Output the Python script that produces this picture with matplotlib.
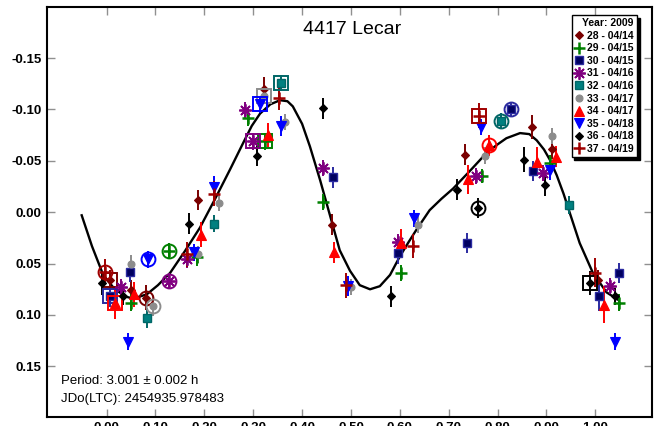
import matplotlib.pyplot as plt

plt.rcParams['font.family'] = ['Liberation Sans', 'DejaVu Sans']

# --- session data: phase, reduced magnitude, error; ring / box = index of highlighted point
phase_28 = [0.007, 0.049, 0.081, 0.186, 0.322, 0.461, 0.733, 0.870, 0.912, 1.006]
mag_28 = [0.066, 0.076, 0.083, -0.012, -0.120, 0.012, -0.056, -0.083, -0.062, 0.066]
err_28 = [0.010, 0.010, 0.012, 0.010, 0.012, 0.010, 0.010, 0.012, 0.010, 0.010]
ring_28, box_28 = 2, 0

phase_29 = [0.049, 0.128, 0.184, 0.289, 0.324, 0.443, 0.602, 0.769, 0.907, 1.048]
mag_29 = [0.088, 0.038, 0.044, -0.092, -0.069, -0.010, 0.059, -0.035, -0.048, 0.088]
err_29 = [0.008, 0.008, 0.008, 0.008, 0.008, 0.008, 0.008, 0.007, 0.008, 0.008]
ring_29, box_29 = 1, 4

phase_30 = [0.007, 0.048, 0.463, 0.597, 0.737, 0.827, 0.873, 1.008, 1.048]
mag_30 = [0.082, 0.058, -0.034, 0.040, 0.030, -0.100, -0.040, 0.082, 0.059]
err_30 = [0.010, 0.010, 0.010, 0.010, 0.010, 0.006, 0.010, 0.014, 0.010]
ring_30, box_30 = 5, 0

phase_31 = [0.029, 0.128, 0.164, 0.283, 0.300, 0.442, 0.597, 0.756, 0.893, 1.030]
mag_31 = [0.073, 0.067, 0.046, -0.099, -0.069, -0.043, 0.029, -0.035, -0.038, 0.072]
err_31 = [0.008, 0.008, 0.008, 0.008, 0.008, 0.008, 0.008, 0.008, 0.008, 0.008]
ring_31, box_31 = 1, 4

phase_32 = [0.083, 0.220, 0.356, 0.808, 0.946]
mag_32 = [0.103, 0.011, -0.126, -0.089, -0.007]
err_32 = [0.010, 0.008, 0.008, 0.008, 0.009]
ring_32, box_32 = 3, 2

phase_33 = [0.050, 0.094, 0.188, 0.229, 0.322, 0.365, 0.501, 0.638, 0.774, 0.912]
mag_33 = [0.050, 0.091, 0.041, -0.009, -0.113, -0.088, 0.073, 0.012, -0.055, -0.074]
err_33 = [0.008, 0.010, 0.008, 0.008, 0.008, 0.008, 0.008, 0.008, 0.008, 0.008]
ring_33, box_33 = 1, 4

phase_34 = [0.017, 0.056, 0.193, 0.330, 0.466, 0.602, 0.740, 0.782, 0.881, 0.919, 1.017]
mag_34 = [0.088, 0.080, 0.022, -0.075, 0.039, 0.030, -0.032, -0.065, -0.049, -0.054, 0.090]
err_34 = [0.016, 0.012, 0.012, 0.012, 0.010, 0.014, 0.014, 0.010, 0.014, 0.010, 0.018]
ring_34, box_34 = 7, 0

phase_35 = [0.043, 0.085, 0.178, 0.220, 0.314, 0.357, 0.494, 0.629, 0.767, 0.907, 1.040]
mag_35 = [0.126, 0.046, 0.039, -0.025, -0.105, -0.084, 0.072, 0.006, -0.083, -0.041, 0.126]
err_35 = [0.008, 0.008, 0.008, 0.010, 0.008, 0.010, 0.010, 0.008, 0.008, 0.010, 0.008]
ring_35, box_35 = 1, 4

phase_36 = [-0.010, 0.034, 0.169, 0.307, 0.442, 0.581, 0.717, 0.760, 0.854, 0.897, 0.989, 1.040]
mag_36 = [0.069, 0.082, 0.011, -0.055, -0.101, 0.082, -0.022, -0.004, -0.051, -0.026, 0.069, 0.082]
err_36 = [0.012, 0.008, 0.010, 0.010, 0.010, 0.010, 0.010, 0.010, 0.012, 0.010, 0.012, 0.008]
ring_36, box_36 = 7, 10

phase_37 = [-0.003, 0.165, 0.219, 0.353, 0.490, 0.626, 0.762, 0.999]
mag_37 = [0.058, 0.041, -0.018, -0.111, 0.071, 0.033, -0.094, 0.059]
err_37 = [0.012, 0.012, 0.012, 0.012, 0.012, 0.012, 0.012, 0.014]
ring_37, box_37 = 0, 6

session_labels = ['28 - 04/14', '29 - 04/15', '30 - 04/15', '31 - 04/16', '32 - 04/16',
                  '33 - 04/17', '34 - 04/17', '35 - 04/18', '36 - 04/18', '37 - 04/19']

# fitted Fourier curve, read as phase / magnitude pairs
curve_phase = [-0.051, -0.030, -0.007, 0.015, 0.038, 0.054, 0.082, 0.105, 0.130, 0.160, 0.191,
               0.222, 0.253, 0.279, 0.297, 0.314, 0.335, 0.355, 0.370, 0.381, 0.400, 0.416,
               0.437, 0.457, 0.477, 0.498, 0.518, 0.539, 0.559, 0.580, 0.600, 0.618, 0.634,
               0.661, 0.685, 0.709, 0.745, 0.778, 0.800, 0.818, 0.846, 0.865, 0.880, 0.895,
               0.907, 0.921, 0.935, 0.948, 0.968, 0.995, 1.023, 1.046]
curve_mag = [0.003, 0.033, 0.061, 0.074, 0.082, 0.084, 0.080, 0.071, 0.059, 0.038, 0.015,
             -0.013, -0.042, -0.067, -0.084, -0.096, -0.105, -0.109, -0.108, -0.103, -0.086, -0.064,
             -0.031, 0.003, 0.037, 0.057, 0.071, 0.075, 0.072, 0.061, 0.043, 0.029, 0.017,
             -0.002, -0.013, -0.023, -0.041, -0.058, -0.066, -0.072, -0.077, -0.076, -0.070, -0.061,
             -0.051, -0.036, -0.018, 0.001, 0.030, 0.059, 0.078, 0.085]

period_text = 'Period: 3.001 \u00b1 0.002 h'
jd_text = 'JDo(LTC): 2454935.978483'

sessions = [
    (phase_28, mag_28, err_28, ring_28, box_28),
    (phase_29, mag_29, err_29, ring_29, box_29),
    (phase_30, mag_30, err_30, ring_30, box_30),
    (phase_31, mag_31, err_31, ring_31, box_31),
    (phase_32, mag_32, err_32, ring_32, box_32),
    (phase_33, mag_33, err_33, ring_33, box_33),
    (phase_34, mag_34, err_34, ring_34, box_34),
    (phase_35, mag_35, err_35, ring_35, box_35),
    (phase_36, mag_36, err_36, ring_36, box_36),
    (phase_37, mag_37, err_37, ring_37, box_37),
]

# marker, face colour, edge colour, size, edge width
styles = [
    ('D', '#7a0000', '#7a0000', 4.5, 0.8),
    ('+', '#008000', '#008000', 8, 1.8),
    ('s', '#000060', '#2a2aa0', 6, 1.0),
    ((8, 2, 0), '#800080', '#800080', 9, 1.3),
    ('s', '#008080', '#006666', 6, 1.0),
    ('o', '#8c8c8c', '#8c8c8c', 5, 0.8),
    ('^', '#ff0000', '#ff0000', 6.5, 0.8),
    ('v', '#0000ff', '#0000ff', 6.5, 0.8),
    ('D', '#000000', '#000000', 4.0, 0.8),
    ('+', '#a00000', '#a00000', 9, 1.8),
]

fig = plt.figure(figsize=(6.61, 4.26), dpi=100)
ax = fig.add_axes([0.0711, 0.0218, 0.9153, 0.9625])

ax.plot(curve_phase, curve_mag, color='black', lw=1.7, zorder=3, solid_joinstyle='round')

for (ph, mg, er, ring, box), (mk, fc, ec, ms, mew), lab in zip(sessions, styles, session_labels):
    ax.errorbar(ph, mg, yerr=er, fmt='none', ecolor=ec, elinewidth=1.4, capsize=0, zorder=4)
    ax.plot(ph, mg, ls='none', marker=mk, color=fc, markerfacecolor=fc, markeredgecolor=ec,
            markersize=ms, markeredgewidth=mew, label=lab, zorder=5)
    ax.plot(ph[ring], mg[ring], ls='none', marker='o', markersize=10, markerfacecolor='none',
            markeredgecolor=ec, markeredgewidth=1.4, zorder=5)
    ax.plot(ph[box], mg[box], ls='none', marker='s', markersize=10, markerfacecolor='none',
            markeredgecolor=ec, markeredgewidth=1.4, zorder=5)

ax.set_xlim(-0.122, 1.116)
ax.set_ylim(0.199, -0.2)
ax.set_xticks([0.0, 0.1, 0.2, 0.3, 0.4, 0.5, 0.6, 0.7, 0.8, 0.9, 1.0])
ax.set_yticks([-0.15, -0.10, -0.05, 0.0, 0.05, 0.10, 0.15])
ax.set_xticklabels(['%.2f' % v for v in ax.get_xticks()], fontweight='bold', fontsize=9.5)
ax.set_yticklabels(['%.2f' % v for v in ax.get_yticks()], fontweight='bold', fontsize=9.5)
ax.tick_params(direction='in', length=6, width=1, color='#909090', top=True, right=True, pad=4)
for sp in ax.spines.values():
    sp.set_linewidth(1.5)
    sp.set_color('black')

fig.text(351.7 / 661, 1 - 30 / 426, '4417 Lecar', fontsize=14, ha='center', va='center')
ax.text(0.023, 0.086, period_text, transform=ax.transAxes, fontsize=9.5, va='center')
ax.text(0.023, 0.044, jd_text, transform=ax.transAxes, fontsize=9.5, va='center')

leg = ax.legend(title='Year: 2009', loc='upper right', bbox_to_anchor=(0.975, 0.98),
                fontsize=7.5, title_fontproperties={'weight': 'bold', 'size': 7.5},
                prop={'weight': 'bold', 'size': 7.5}, fancybox=False, edgecolor='black',
                shadow={'color': 'black', 'alpha': 1}, borderpad=0.3, labelspacing=0.25,
                handlelength=0.8, handletextpad=0.4, borderaxespad=0, framealpha=1)
leg.get_frame().set_linewidth(1)
leg._legend_box.align = 'right'

fig.savefig('out.png', dpi=100)
